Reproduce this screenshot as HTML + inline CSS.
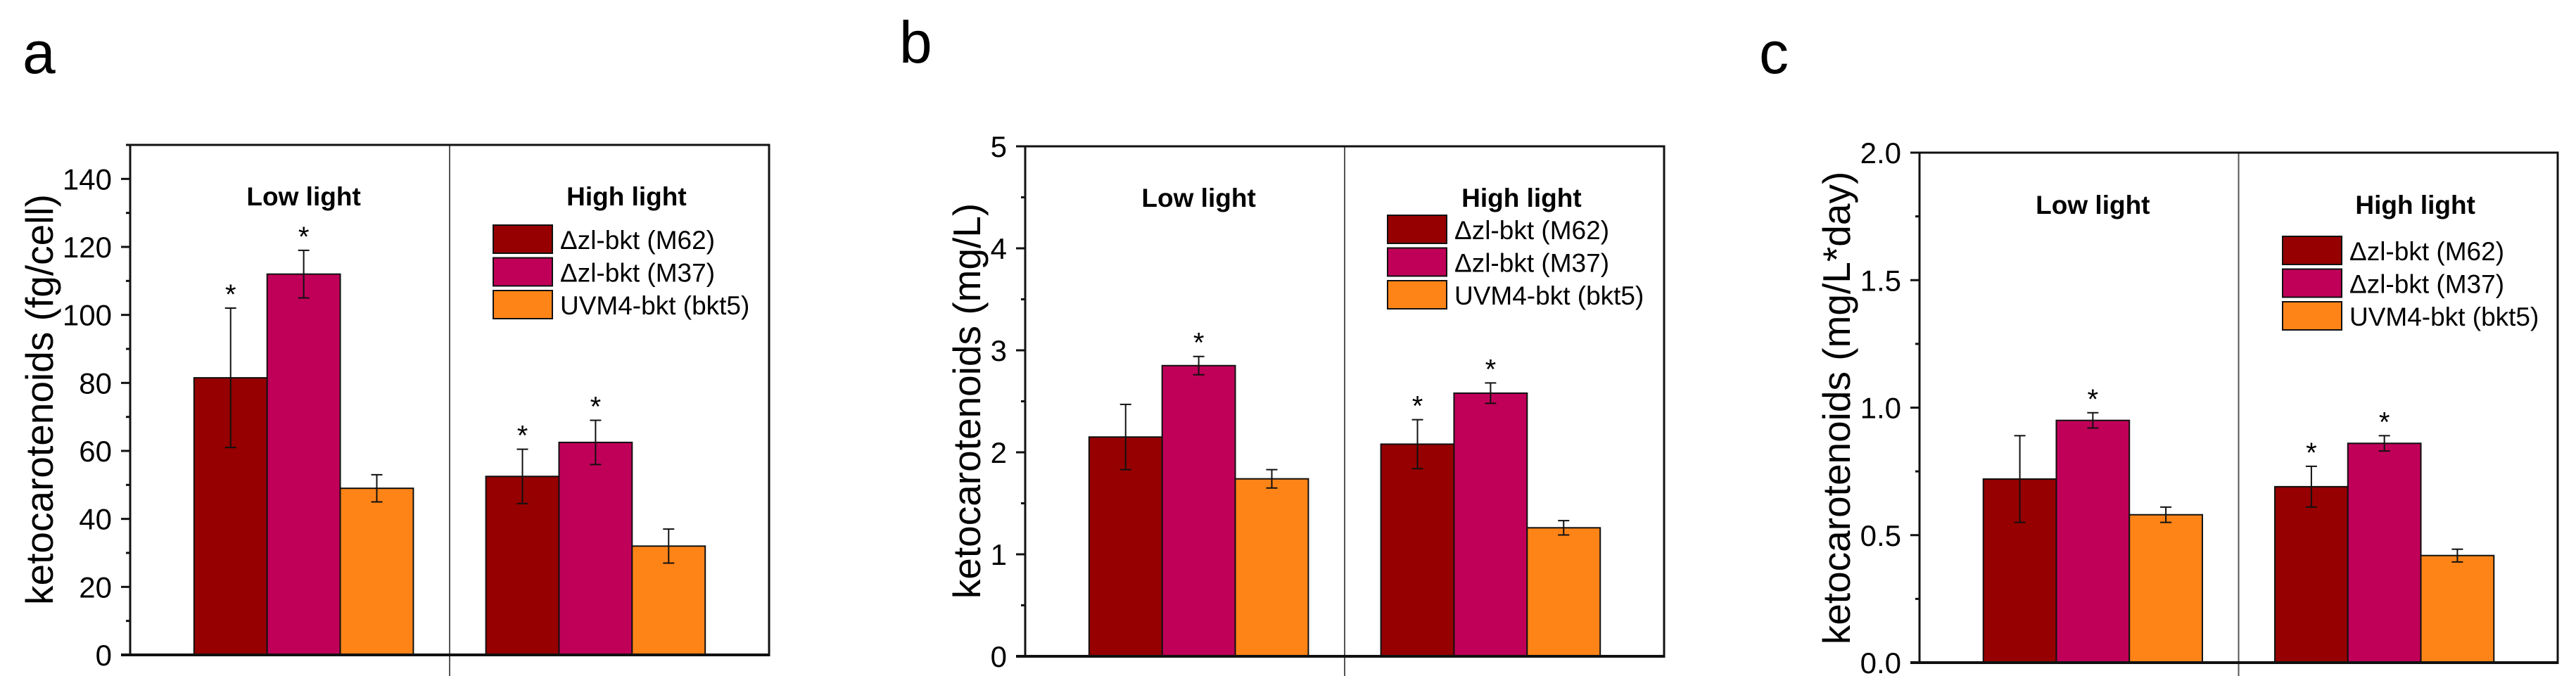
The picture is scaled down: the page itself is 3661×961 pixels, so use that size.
<!DOCTYPE html>
<html><head><meta charset="utf-8">
<style>
html,body{margin:0;padding:0;background:#fff;}
svg{display:block;}
text{font-family:"Liberation Sans",Arial,sans-serif;fill:#000;}
</style></head>
<body>
<svg id="chart" width="3661" height="961" viewBox="0 0 3661 961" xmlns="http://www.w3.org/2000/svg"></svg>
<script>
const categories = ["Low light", "High light"];
const seriesNames = ["Δzl-bkt (M62)", "Δzl-bkt (M37)", "UVM4-bkt (bkt5)"];
const colors = ["#960000", "#C00058", "#FF8418"];

const aValues = [[81.5, 112, 49], [52.5, 62.5, 32]];
const aErrors = [[20.5, 7, 4], [8, 6.5, 5]];
const aStars = [[1, 1, 0], [1, 1, 0]];
const aTicks = ["0", "20", "40", "60", "80", "100", "120", "140"];

const bValues = [[2.15, 2.85, 1.74], [2.08, 2.58, 1.26]];
const bErrors = [[0.32, 0.09, 0.09], [0.24, 0.1, 0.07]];
const bStars = [[0, 1, 0], [1, 1, 0]];
const bTicks = ["0", "1", "2", "3", "4", "5"];

const cValues = [[0.72, 0.95, 0.58], [0.69, 0.86, 0.42]];
const cErrors = [[0.17, 0.03, 0.03], [0.08, 0.03, 0.025]];
const cStars = [[0, 1, 0], [1, 1, 0]];
const cTicks = ["0.0", "0.5", "1.0", "1.5", "2.0"];

const NS = "http://www.w3.org/2000/svg";
const svg = document.getElementById("chart");
function mk(tag, attrs, parent, txt) {
  const e = document.createElementNS(NS, tag);
  for (const k in attrs) e.setAttribute(k, attrs[k]);
  if (txt !== undefined) e.textContent = txt;
  (parent || svg).appendChild(e);
  return e;
}

function panel(cfg) {
  const g = mk("g", {});
  
  
  const L = cfg.left, R = cfg.right, T = cfg.top, B = cfg.bottom, W = R - L;
  const ys = v => B - v / cfg.max * (B - T);
  const xs = (ci, si) => L + (0.2716 + ci * 0.4568) * W + (si - 1) * 0.1144 * W;
  const bw = 0.1144 * W;

  const lab = mk("text", {x: cfg.labX, y: cfg.labY, "font-size": 84}, g, cfg.id);
  
  

  const mid = mk("line", {x1: (L + R) / 2, x2: (L + R) / 2, y1: T, y2: 961, stroke: "#555", "stroke-width": 2}, g);
  
  

  for (let ci = 0; ci < categories.length; ci++) {
    for (let si = 0; si < 3; si++) {
      const v = cfg.values[ci][si], e = cfg.errors[ci][si];
      const cx = xs(ci, si);
      const r = mk("rect", {x: cx - bw / 2, y: ys(v), width: bw, height: B - ys(v), fill: colors[si], stroke: "#111", "stroke-width": 2}, g);
      
      
      const eb = mk("path", {d: `M${cx},${ys(v + e)}V${ys(v - e)}M${cx - 8},${ys(v + e)}H${cx + 8}M${cx - 8},${ys(v - e)}H${cx + 8}`, stroke: "#111", "stroke-width": 2, fill: "none"}, g);
      
      
      if (cfg.stars[ci][si]) {
        const st = mk("text", {x: cx, y: ys(v + e) - 6, "font-size": 40, "text-anchor": "middle"}, g, "*");
        
        
      }
    }
    const ct = mk("text", {x: xs(ci, 1) + (ci ? 44 : 0), y: cfg.catY, "font-size": 37, "font-weight": "bold", "text-anchor": "middle"}, g, categories[ci]);
    
    
  }

  const fr = mk("path", {d: `M${L},${B}V${T}H${R}V${B}`, stroke: "#111", "stroke-width": 3, fill: "none"}, g);
  
  
  const xa = mk("line", {x1: L - 13, x2: R + 1.5, y1: B, y2: B, stroke: "#111", "stroke-width": 4}, g);
  
  

  const n = cfg.ticks.length;
  for (let i = 0; i < n; i++) {
    const v = parseFloat(cfg.ticks[i]);
    const y = ys(v);
    const tk = mk("line", {x1: L - 13, x2: L, y1: y, y2: y, stroke: "#111", "stroke-width": 3}, g);
    
    
    const tl = mk("text", {x: L - 26, y: y + 15, "font-size": 42, "text-anchor": "end"}, g, cfg.ticks[i]);
    
    
    const mv = v + cfg.step / 2;
    if (mv <= cfg.max) {
      const mt = mk("line", {x1: L - 6, x2: L, y1: ys(mv), y2: ys(mv), stroke: "#111", "stroke-width": 3}, g);
      
      
    }
  }

  const yt = mk("text", {x: 0, y: 0, "font-size": 55, "text-anchor": "middle", transform: `translate(${cfg.titleX},${cfg.titleY}) rotate(-90)`}, g, cfg.title);
  
  

  for (let si = 0; si < 3; si++) {
    const y0 = cfg.legY + si * 46.5;
    const lr = mk("rect", {x: cfg.legX, y: y0, width: 84, height: 40, fill: colors[si], stroke: "#111", "stroke-width": 2}, g);
    
    
    const lt = mk("text", {x: cfg.legX + 95, y: y0 + 34, "font-size": 37}, g, seriesNames[si]);
    
    
  }
}

panel({id: "a", left: 185, right: 1093, top: 206, bottom: 931, max: 150, step: 20, ticks: aTicks,
  values: aValues, errors: aErrors, stars: aStars, labX: 32, labY: 104, catY: 292,
  title: "ketocarotenoids (fg/cell)", titleX: 75, titleY: 568, legX: 701, legY: 320});
panel({id: "b", left: 1457, right: 2365, top: 208, bottom: 933, max: 5, step: 1, ticks: bTicks,
  values: bValues, errors: bErrors, stars: bStars, labX: 1278, labY: 89, catY: 294,
  title: "ketocarotenoids (mg/L)", titleX: 1393, titleY: 570, legX: 1972, legY: 306});
panel({id: "c", left: 2728, right: 3635, top: 217, bottom: 942, max: 2, step: 0.5, ticks: cTicks,
  values: cValues, errors: cErrors, stars: cStars, labX: 2500, labY: 104, catY: 304,
  title: "ketocarotenoids (mg/L*day)", titleX: 2629, titleY: 580, legX: 3244, legY: 336});
</script>
</body></html>
